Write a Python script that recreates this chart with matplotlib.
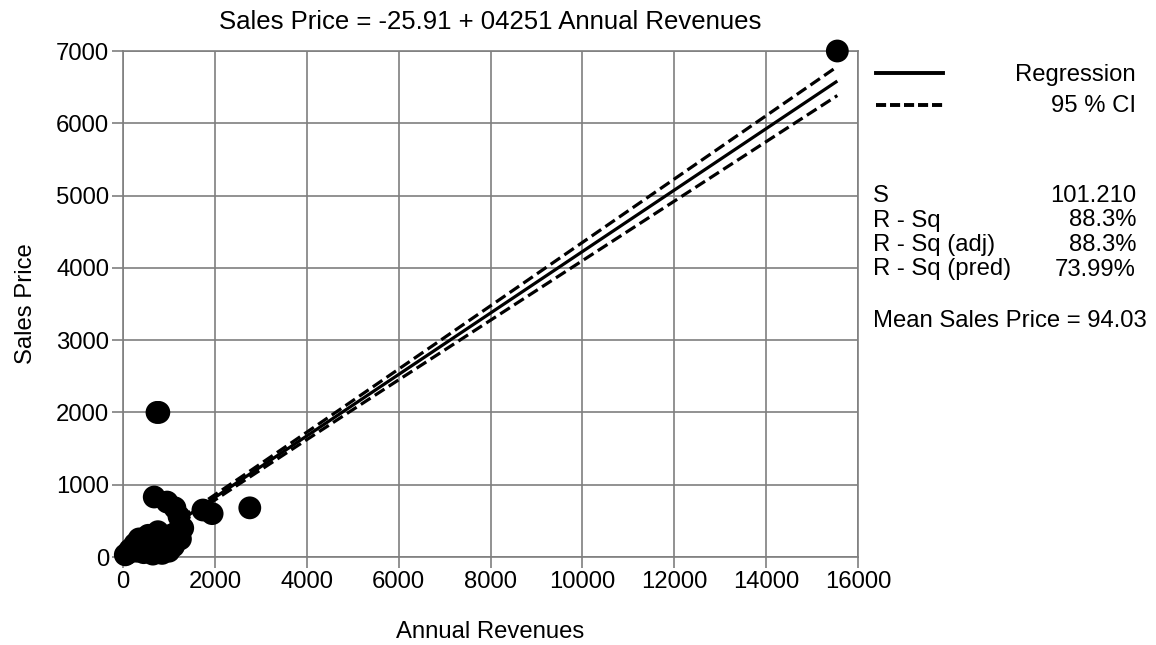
import matplotlib
matplotlib.use("Agg")
import matplotlib.pyplot as plt
import numpy as np
from matplotlib.lines import Line2D

plt.rcParams["font.family"] = ["Liberation Sans", "DejaVu Sans"]

# observed companies: annual revenues vs. sales price
revenues = [15550, 740, 780, 680, 960, 1130, 1220, 1740, 1940, 2760,
            1300, 1200, 1000, 760, 550, 260, 150, 100, 50, 300,
            400, 500, 600, 700, 800, 900, 1000, 1100, 1250, 350,
            200, 450, 650, 850, 1050]
prices = [7000, 2000, 2000, 830, 760, 680, 560, 650, 600, 680,
          400, 300, 200, 350, 300, 180, 100, 50, 30, 80,
          150, 100, 200, 120, 250, 100, 80, 150, 250, 250,
          120, 60, 40, 50, 300]

# fitted model summary
intercept = -25.91
slope = 0.4251
s_err = 101.210
t_crit = 2.03
stat_labels = ["S", "R - Sq", "R - Sq (adj)", "R - Sq (pred)"]
stat_values = ["101.210", "88.3%", "88.3%", "73.99%"]
mean_price = 94.03

x_ticks = np.arange(0, 16001, 2000)
y_ticks = np.arange(0, 7001, 1000)

GRID = "#7f7f7f"
FS = 17.2

fig = plt.figure(figsize=(11.56, 6.45), dpi=100)
fig.patch.set_facecolor("white")
ax = fig.add_axes([123 / 1156, 1 - 557 / 645, 735 / 1156, 506 / 645])

x = np.array(revenues, dtype=float)
y = np.array(prices, dtype=float)
n = len(x)
xbar = x.mean()
sxx = ((x - xbar) ** 2).sum()

xs = np.linspace(x.min(), x.max(), 200)
fit = intercept + slope * xs
half = t_crit * s_err * np.sqrt(1 / n + (xs - xbar) ** 2 / sxx)

dash = (3.6, 1.6)
ax.plot(xs, fit, color="black", lw=2.3, zorder=3, solid_capstyle="butt")
ax.plot(xs, fit + half, color="black", lw=2.3, dashes=dash, zorder=3)
ax.plot(xs, fit - half, color="black", lw=2.3, dashes=dash, zorder=3)
ax.scatter(x, y, s=270, color="black", edgecolors="none", zorder=4, clip_on=False)

ax.set_xlim(0, 16000)
ax.set_ylim(0, 7000)
ax.set_xticks(x_ticks)
ax.set_yticks(y_ticks)
ax.grid(True, color=GRID, lw=1.2)
ax.set_axisbelow(True)
for sp in ax.spines.values():
    sp.set_color(GRID)
    sp.set_linewidth(1.2)
ax.tick_params(direction="out", length=8, width=1.2, color=GRID,
               labelsize=FS, pad=2)

ax.set_title("Sales Price = -25.91 + 04251 Annual Revenues", fontsize=18.5, pad=16)
ax.set_xlabel("Annual Revenues", fontsize=FS, labelpad=20)
ax.set_ylabel("Sales Price", fontsize=FS, labelpad=14)

# legend and fit statistics to the right of the plot
def fy(py):
    return 1 - py / 645

def fx(px):
    return px / 1156

fig.add_artist(Line2D([fx(876), fx(943)], [fy(73), fy(73)], color="black", lw=2.8))
fig.add_artist(Line2D([fx(876), fx(943)], [fy(105), fy(105)], color="black", lw=2.8,
                      dashes=(2.6, 1.0)))
fig.text(fx(1136), fy(75), "Regression", ha="right", va="center", fontsize=FS)
fig.text(fx(1136), fy(106), "95 % CI", ha="right", va="center", fontsize=FS)

for i, (lab, val) in enumerate(zip(stat_labels, stat_values)):
    yy = fy(196 + i * 24.5)
    fig.text(fx(873), yy, lab, ha="left", va="center", fontsize=FS)
    fig.text(fx(1136), yy, val, ha="right", va="center", fontsize=FS)

fig.text(fx(873), fy(321), f"Mean Sales Price = {mean_price:.2f}",
         ha="left", va="center", fontsize=FS)

fig.savefig("out.png", dpi=100)
